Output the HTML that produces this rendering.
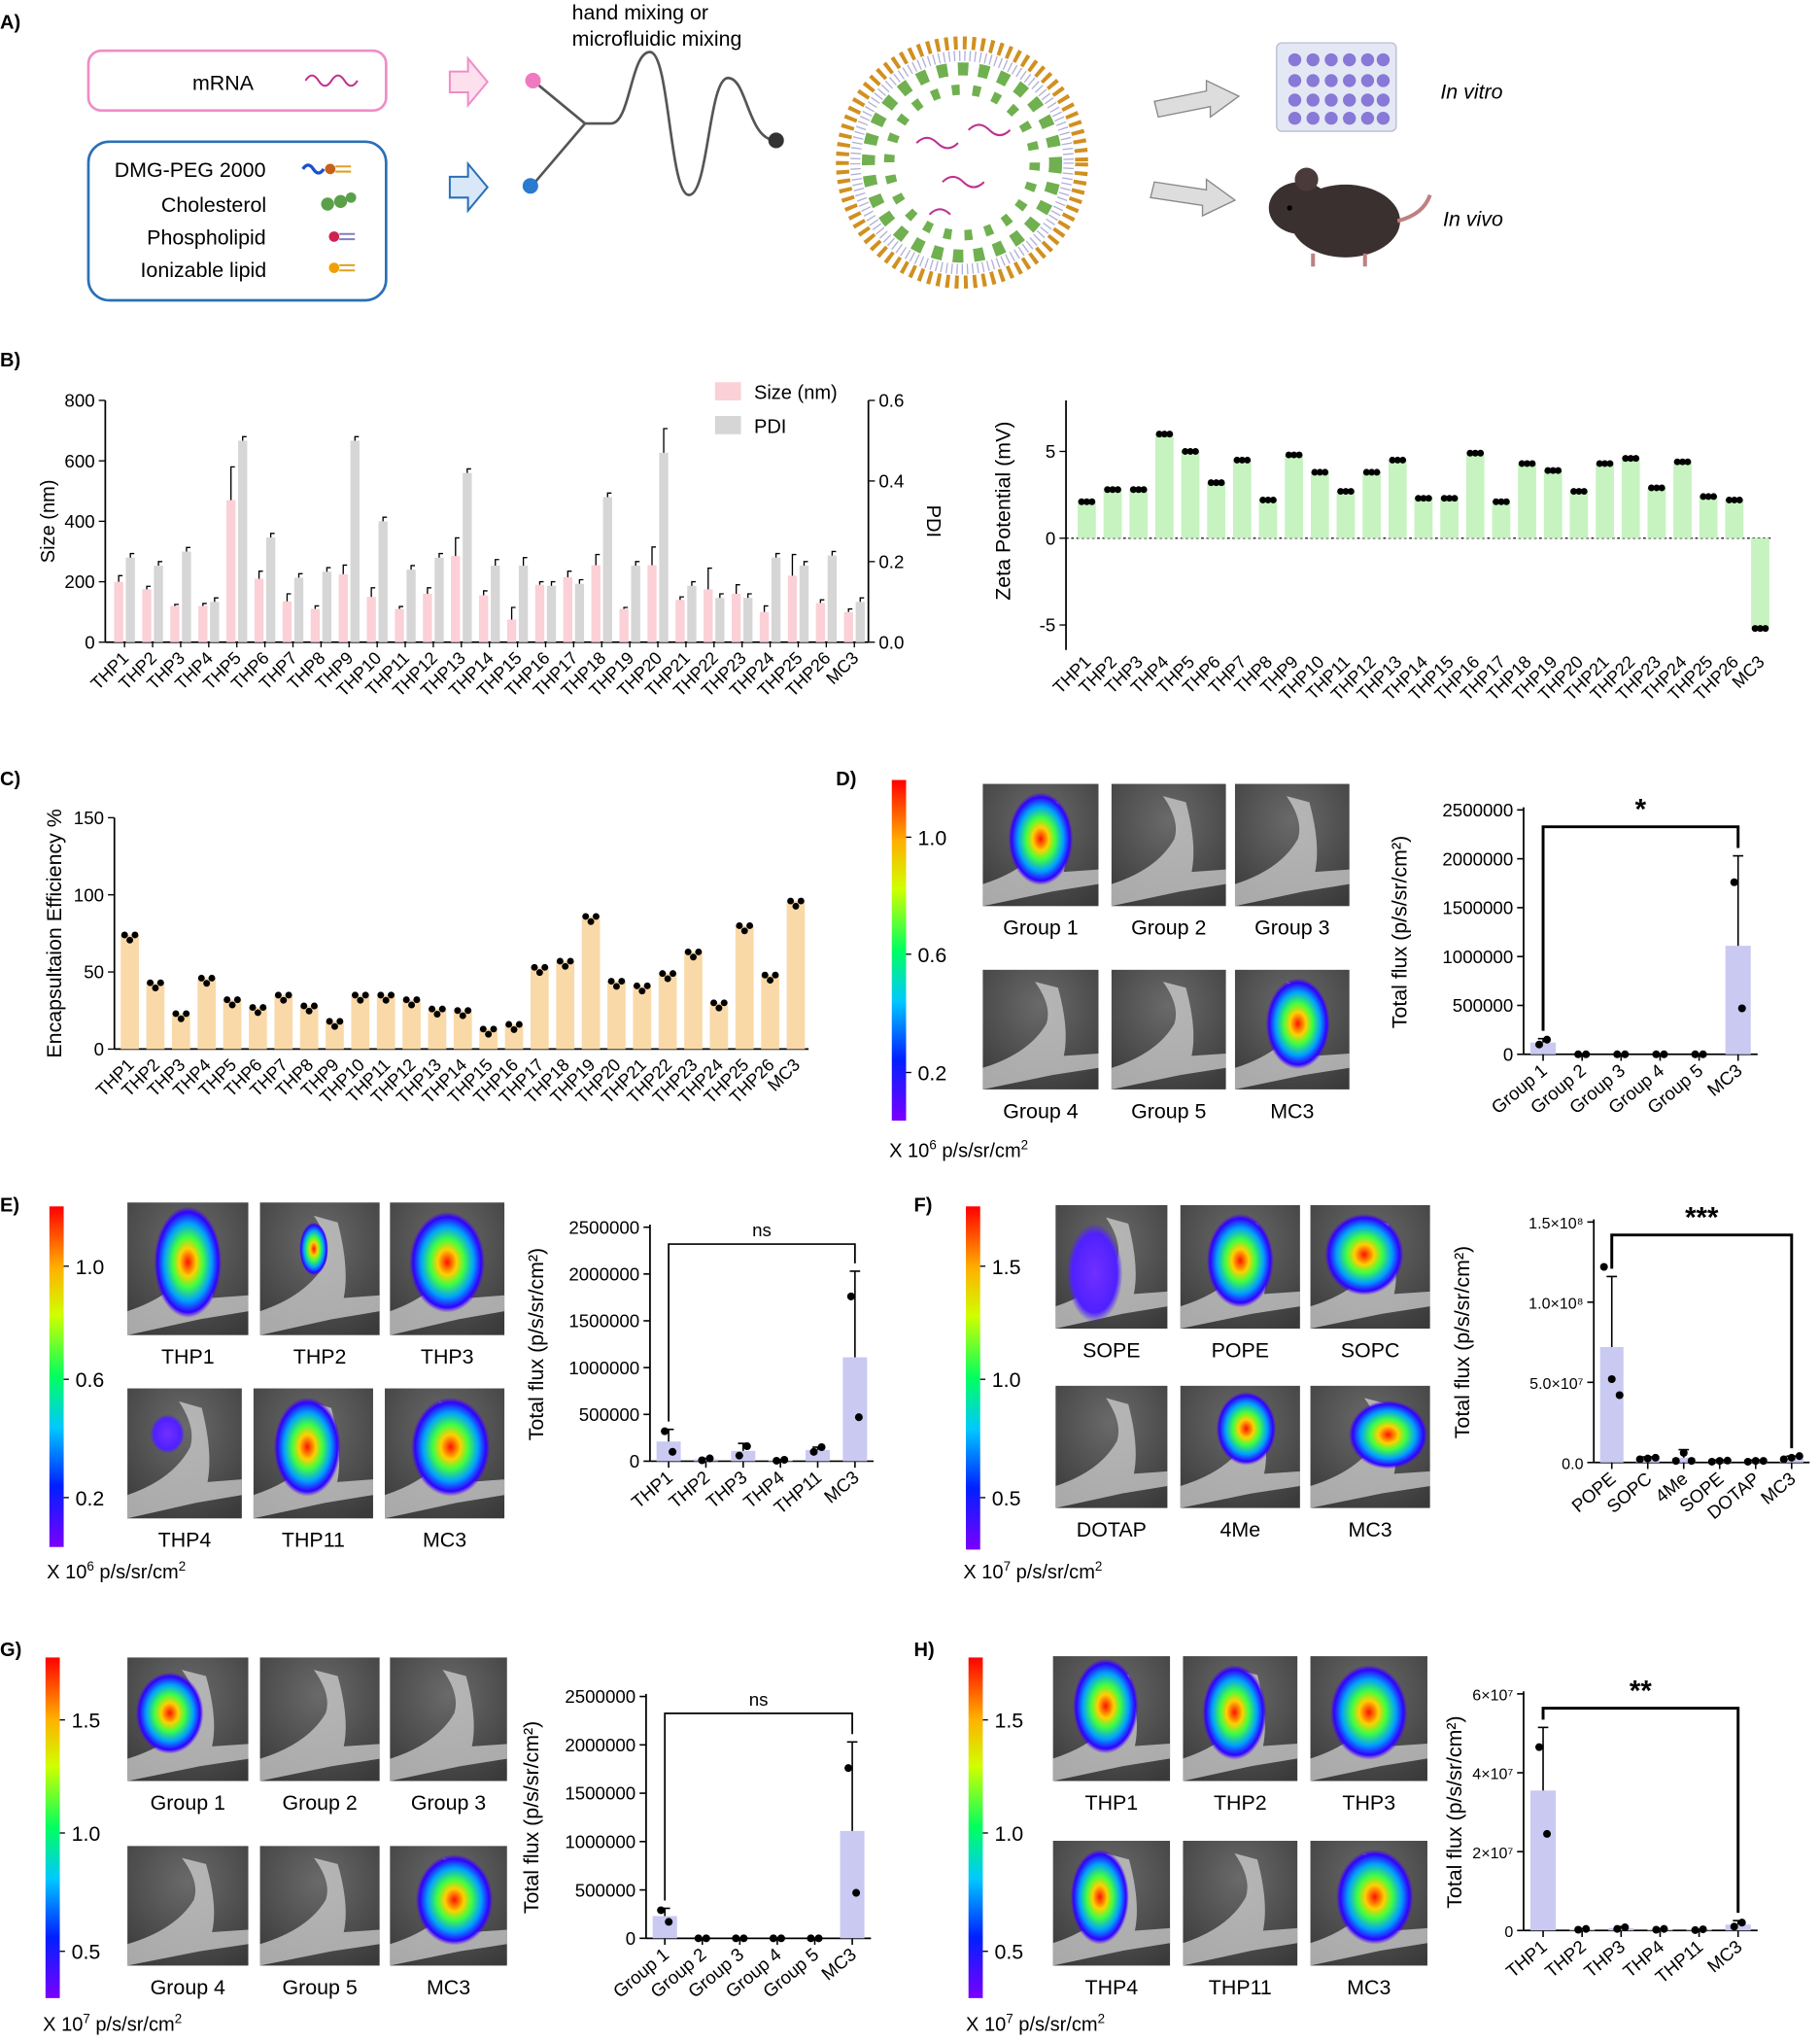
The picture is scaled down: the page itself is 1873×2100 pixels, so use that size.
<!DOCTYPE html>
<html><head><meta charset="utf-8">
<style>
html,body{margin:0;padding:0;background:#fff;}
svg{display:block;font-family:"Liberation Sans",Arial,sans-serif;}
</style></head>
<body>
<svg id="fig" width="1873" height="2100" viewBox="0 0 1400 1570" preserveAspectRatio="none" xmlns="http://www.w3.org/2000/svg">
<defs>
<linearGradient id="rainbow" x1="0" y1="1" x2="0" y2="0">
<stop offset="0" stop-color="#7a00ff"/><stop offset="0.18" stop-color="#0020ff"/><stop offset="0.35" stop-color="#00c8ff"/><stop offset="0.5" stop-color="#00ff60"/><stop offset="0.68" stop-color="#d0ff00"/><stop offset="0.82" stop-color="#ffb000"/><stop offset="1" stop-color="#ff0000"/>
</linearGradient>
<radialGradient id="blob" cx="0.5" cy="0.5" r="0.5">
<stop offset="0" stop-color="#ff1000"/><stop offset="0.25" stop-color="#ffd000"/><stop offset="0.45" stop-color="#40ff40"/><stop offset="0.7" stop-color="#00a0ff"/><stop offset="0.9" stop-color="#3000ff"/><stop offset="1" stop-color="#5000ff" stop-opacity="0"/>
</radialGradient>
<radialGradient id="blobweak" cx="0.5" cy="0.5" r="0.5">
<stop offset="0" stop-color="#7030ff"/><stop offset="0.8" stop-color="#5020ff"/><stop offset="1" stop-color="#5020ff" stop-opacity="0"/>
</radialGradient>
<radialGradient id="mouseBg" cx="0.5" cy="0.3" r="0.8">
<stop offset="0" stop-color="#6a6a6a"/><stop offset="1" stop-color="#3a3a3a"/>
</radialGradient>
</defs>

<!-- Panel A -->
<g>
<text x="0" y="22" font-size="15" font-weight="bold">A)</text>
<rect x="68" y="39" width="229" height="46" rx="10" fill="#fff" stroke="#f08cc8" stroke-width="2"/>
<text x="148" y="69" font-size="16">mRNA</text>
<path d="M235 62 q5 -8 10 0 t10 0 t10 0 t10 0" fill="none" stroke="#c03090" stroke-width="1.5"/>
<rect x="68" y="109" width="229" height="122" rx="16" fill="#fff" stroke="#2a6fb8" stroke-width="2"/>
<text x="88" y="136" font-size="16">DMG-PEG 2000</text>
<text x="124" y="163" font-size="16">Cholesterol</text>
<text x="113" y="188" font-size="16">Phospholipid</text>
<text x="108" y="213" font-size="16">Ionizable lipid</text>
<path d="M233 130 q4 -6 8 0 t8 0" stroke="#1a50d0" stroke-width="2.5" fill="none"/><circle cx="254" cy="130" r="4" fill="#c86018"/><path d="M258 128 h12 M258 132 h12" stroke="#e0a020" stroke-width="1.5"/>
<circle cx="252" cy="157" r="5" fill="#5aa04a"/><circle cx="262" cy="155" r="5" fill="#5aa04a"/><circle cx="270" cy="152" r="4" fill="#5aa04a"/>
<circle cx="257" cy="182" r="4" fill="#d02050"/><path d="M261 180 h12 M261 184 h12" stroke="#8080c0" stroke-width="1.5"/>
<circle cx="257" cy="206" r="4" fill="#f0a000"/><path d="M261 204 h12 M261 208 h12" stroke="#e0a020" stroke-width="1.5"/>
<path d="M346 55 h14 v-10 l15 18 l-15 18 v-10 h-14 z" fill="#fde0ee" stroke="#f08cc8" stroke-width="1.5"/>
<path d="M346 136 h14 v-10 l15 18 l-15 18 v-10 h-14 z" fill="#d8e8f8" stroke="#2a6fb8" stroke-width="1.5"/>
<text x="440" y="15" font-size="16">hand mixing or</text>
<text x="440" y="35" font-size="16">microfluidic mixing</text>
<path d="M410 62 L450 95 L410 142 M450 95 L470 95 C485 95 485 40 500 40 C515 40 515 150 530 150 C545 150 545 60 560 60 C575 60 575 108 597 108" fill="none" stroke="#555" stroke-width="2"/>
<circle cx="410" cy="62" r="6" fill="#f07ac0"/><circle cx="408" cy="143" r="6" fill="#2a7ad0"/><circle cx="597" cy="108" r="6" fill="#333"/>
<g>
<circle cx="740" cy="125" r="92" fill="#fff" stroke="#d09020" stroke-width="10" stroke-dasharray="3 4"/>
<circle cx="740" cy="125" r="82" fill="none" stroke="#b0b0d8" stroke-width="8" stroke-dasharray="1 3"/>
<circle cx="740" cy="125" r="72" fill="none" stroke="#70b050" stroke-width="10" stroke-dasharray="8 8"/>
<circle cx="740" cy="125" r="56" fill="none" stroke="#70b050" stroke-width="8" stroke-dasharray="6 10"/>
<path d="M705 110 q8 -8 16 0 t16 0 M725 140 q8 -8 16 0 t16 0 M745 100 q8 -8 16 0 t16 0 M715 165 q8 -8 16 0" stroke="#c03090" fill="none" stroke-width="1.5"/>
</g>
<path d="M888 78 l40 -8 v-8 l25 12 l-22 16 v-8 l-40 8 z" fill="#ddd" stroke="#888"/>
<path d="M888 140 l40 6 v-8 l22 16 l-25 12 v-8 l-40 -6 z" fill="#ddd" stroke="#888"/>
<rect x="982" y="33" width="92" height="68" rx="4" fill="#e4e8f4" stroke="#b8bcd0"/>
<g fill="#8878d8">
<circle cx="996" cy="46" r="5"/><circle cx="1010" cy="46" r="5"/><circle cx="1024" cy="46" r="5"/><circle cx="1038" cy="46" r="5"/><circle cx="1052" cy="46" r="5"/><circle cx="1064" cy="46" r="5"/>
<circle cx="996" cy="62" r="5"/><circle cx="1010" cy="62" r="5"/><circle cx="1024" cy="62" r="5"/><circle cx="1038" cy="62" r="5"/><circle cx="1052" cy="62" r="5"/><circle cx="1064" cy="62" r="5"/>
<circle cx="996" cy="77" r="5"/><circle cx="1010" cy="77" r="5"/><circle cx="1024" cy="77" r="5"/><circle cx="1038" cy="77" r="5"/><circle cx="1052" cy="77" r="5"/><circle cx="1064" cy="77" r="5"/>
<circle cx="996" cy="91" r="5"/><circle cx="1010" cy="91" r="5"/><circle cx="1024" cy="91" r="5"/><circle cx="1038" cy="91" r="5"/><circle cx="1052" cy="91" r="5"/><circle cx="1064" cy="91" r="5"/>
</g>
<text x="1108" y="76" font-size="16" font-style="italic">In vitro</text>
<g>
<ellipse cx="1035" cy="170" rx="42" ry="28" fill="#3a3030"/>
<ellipse cx="1000" cy="160" rx="24" ry="20" fill="#3a3030"/>
<circle cx="1005" cy="138" r="9" fill="#4a3a3a"/><circle cx="992" cy="160" r="2" fill="#000"/>
<path d="M1075 170 q20 -5 25 -20" stroke="#c08080" stroke-width="3" fill="none"/>
<path d="M1010 195 v10 M1050 195 v10" stroke="#c08080" stroke-width="3"/>
</g>
<text x="1110" y="174" font-size="16" font-style="italic">In vivo</text>
</g>

<g id="dyn"></g>
</svg>

<script>
// ---------- data ----------
const catsTHP = ["THP1","THP2","THP3","THP4","THP5","THP6","THP7","THP8","THP9","THP10","THP11","THP12","THP13","THP14","THP15","THP16","THP17","THP18","THP19","THP20","THP21","THP22","THP23","THP24","THP25","THP26","MC3"];
const sizeVals = [200,175,120,120,470,210,135,110,225,150,110,160,285,155,75,190,215,255,110,255,140,175,160,100,220,130,100];
const sizeErr = [20,10,5,8,110,25,25,10,30,30,8,20,60,15,40,10,20,35,5,60,10,70,30,20,70,10,10];
const pdiVals = [0.21,0.19,0.225,0.1,0.5,0.26,0.16,0.175,0.5,0.3,0.18,0.21,0.42,0.19,0.19,0.14,0.145,0.36,0.19,0.47,0.14,0.11,0.11,0.21,0.19,0.215,0.1];
const pdiErr = [0.01,0.01,0.01,0.01,0.01,0.01,0.01,0.01,0.01,0.01,0.01,0.01,0.01,0.015,0.02,0.01,0.01,0.01,0.01,0.06,0.01,0.01,0.01,0.01,0.01,0.01,0.01];
const sizeTicks = [0,200,400,600,800];
const pdiTicks = [0,0.2,0.4,0.6];
const pdiTickLabels = ["0.0","0.2","0.4","0.6"];
const zetaVals = [2.1,2.8,2.8,6.0,5.0,3.2,4.5,2.2,4.8,3.8,2.7,3.8,4.5,2.3,2.3,4.9,2.1,4.3,3.9,2.7,4.3,4.6,2.9,4.4,2.4,2.2,-5.2];
const zetaTicks = [-5,0,5];
const eeVals = [74,43,23,46,32,27,35,28,18,35,35,32,26,25,13,16,53,57,86,44,41,49,63,30,80,48,96];
const eeTicks = [0,50,100,150];

const catsD = ["Group 1","Group 2","Group 3","Group 4","Group 5","MC3"];
const valsD = [120000,0,0,0,0,1110000];
const errD = [40000,0,0,0,0,920000];
const dotsD = [[100000,150000],[0,0],[0,0],[0,0],[0,0],[1760000,470000]];
const fluxTicks = [0,500000,1000000,1500000,2000000,2500000];
const fluxTickLabels = ["0","500000","1000000","1500000","2000000","2500000"];

const catsE = ["THP1","THP2","THP3","THP4","THP11","MC3"];
const valsE = [210000,20000,110000,10000,120000,1110000];
const errE = [130000,10000,80000,5000,30000,920000];
const dotsE = [[320000,100000],[10000,30000],[60000,160000],[5000,15000],[100000,150000],[1760000,470000]];

const catsF = ["POPE","SOPC","4Me","SOPE","DOTAP","MC3"];
const valsF = [7.2e7,2.5e6,3e6,1e6,1e6,3e6];
const errF = [4.4e7,1e6,5e6,5e5,5e5,1e6];
const dotsF = [[1.22e8,5.2e7,4.2e7],[2e6,2.5e6,3e6],[1e6,6e6,1e6],[5e5,1e6,1.2e6],[5e5,1e6,1e6],[2e6,3e6,4e6]];
const ticksF = [0,5e7,1e8,1.5e8];
const tickLabelsF = ["0.0","5.0×10⁷","1.0×10⁸","1.5×10⁸"];

const catsG = ["Group 1","Group 2","Group 3","Group 4","Group 5","MC3"];
const valsG = [230000,0,0,0,0,1110000];
const errG = [80000,0,0,0,0,920000];
const dotsG = [[290000,170000],[0,0],[0,0],[0,0],[0,0],[1760000,470000]];

const catsH = ["THP1","THP2","THP3","THP4","THP11","MC3"];
const valsH = [3.55e7,3e5,6e5,3e5,2e5,1.5e6];
const errH = [1.6e7,2e5,4e5,2e5,1e5,1e6];
const dotsH = [[4.65e7,2.45e7],[2e5,4e5],[4e5,8e5],[2e5,4e5],[1e5,3e5],[1e6,2e6]];
const ticksH = [0,2e7,4e7,6e7];
const tickLabelsH = ["0","2×10⁷","4×10⁷","6×10⁷"];

// ---------- helpers ----------
const NS = "http://www.w3.org/2000/svg";
const root = document.getElementById("dyn");
function mk(tag, attrs, parent) {
  const e = document.createElementNS(NS, tag);
  for (const k in attrs) e.setAttribute(k, attrs[k]);
  (parent || root).appendChild(e);
  return e;
}
function txt(x, y, s, size, parent, extra) {
  const t = mk("text", Object.assign({x: x, y: y, "font-size": size}, extra || {}), parent);
  t.textContent = s;
  return t;
}
function lin(v, max, yBot, yTop) { return yBot - v / max * (yBot - yTop); }

function fluxChart(o) {
  const g = mk("g", {});
  
  
  const y = v => lin(v, o.max, o.yBot, o.yTop);
  mk("line", {x1: o.ax, y1: o.yTop - 2, x2: o.ax, y2: o.yBot, stroke: "#000", "stroke-width": 1.3}, g);
  mk("line", {x1: o.ax, y1: o.yBot, x2: o.x1, y2: o.yBot, stroke: "#000", "stroke-width": 1.3}, g);
  o.ticks.forEach((t, i) => {
    const ty = y(t);
    mk("line", {x1: o.ax - 5, y1: ty, x2: o.ax, y2: ty, stroke: "#000", "stroke-width": 1.2}, g);
    const lab = txt(o.ax - 8, ty + 5, o.labels[i], o.tickSize || 14, g, {"text-anchor": "end"});
    
    
  });
  const title = txt(0, 0, "Total flux (p/s/sr/cm²)", 16, g, {"text-anchor": "middle", transform: `translate(${o.titleX},${(o.yTop + o.yBot) / 2}) rotate(-90)`});
  
  
  const band = (o.x1 - o.ax) / o.cats.length;
  const bw = band * 0.65;
  const cx = [];
  o.cats.forEach((c, i) => {
    const x = o.ax + band * (i + 0.5);
    cx.push(x);
    const bar = mk("rect", {x: x - bw / 2, y: y(o.vals[i]), width: bw, height: o.yBot - y(o.vals[i]), fill: "#c9c9f2"}, g);
    
    
    if (o.err[i] > 0) {
      const ey = y(o.vals[i] + o.err[i]);
      mk("line", {x1: x, y1: y(o.vals[i]), x2: x, y2: ey, stroke: "#000", "stroke-width": 1.2}, g);
      mk("line", {x1: x - 4, y1: ey, x2: x + 4, y2: ey, stroke: "#000", "stroke-width": 1.2}, g);
    }
    o.dots[i].forEach((d, j) => {
      const n = o.dots[i].length;
      const dot = mk("circle", {cx: x + (j - (n - 1) / 2) * 6, cy: y(d), r: 3, fill: "#000"}, g);
      
      
    });
    mk("line", {x1: x, y1: o.yBot, x2: x, y2: o.yBot + 5, stroke: "#000", "stroke-width": 1.2}, g);
    const xl = txt(x + 4, o.yBot + 14, c, 14, g, {"text-anchor": "end", transform: `rotate(-40 ${x + 4} ${o.yBot + 14})`});
    
    
  });
  const x0 = cx[0], x5 = cx[cx.length - 1];
  const top0 = y(o.vals[0] + o.err[0]) - 6, top5 = y(o.vals[5] + o.err[5]) - 6;
  mk("path", {d: `M${x0} ${top0} V${o.sigY} H${x5} V${top5}`, fill: "none", stroke: "#000", "stroke-width": o.sigBold ? 2.2 : 1.3}, g);
  const s = txt((x0 + x5) / 2, o.sigY - 6, o.sig, o.sigBold ? 22 : 14, g, {"text-anchor": "middle", "font-weight": o.sigBold ? "bold" : "normal"});
  
  
}

function colorbar(name, x, y0, y1, labels, ys, caption, capX, capY) {
  const g = mk("g", {});
  
  
  mk("rect", {x: x, y: y0, width: 11, height: y1 - y0, fill: "url(#rainbow)"}, g);
  labels.forEach((l, i) => {
    mk("line", {x1: x + 11, y1: ys[i], x2: x + 15, y2: ys[i], stroke: "#000"}, g);
    txt(x + 20, ys[i] + 6, l, 16, g);
  });
  const c = txt(capX, capY, "", 15, g);
  c.innerHTML = caption;
}

function tile(name, x, y, w, h, label, blob) {
  const g = mk("g", {});
  
  
  mk("rect", {x: x, y: y, width: w, height: h, fill: "url(#mouseBg)"}, g);
  mk("path", {d: `M${x} ${y + h * 0.82} Q${x + w * 0.4} ${y + h * 0.7} ${x + w * 0.55} ${y + h * 0.45} Q${x + w * 0.6} ${y + h * 0.3} ${x + w * 0.45} ${y + h * 0.1} L${x + w * 0.65} ${y + h * 0.15} Q${x + w * 0.75} ${y + h * 0.5} ${x + w * 0.7} ${y + h * 0.72} L${x + w} ${y + h * 0.7} L${x + w} ${y + h * 0.82} L${x + w * 0.6} ${y + h * 0.88} L${x} ${y + h}Z`, fill: "#cfcfcf", opacity: 0.75}, g);
  if (blob) {
    mk("ellipse", {cx: x + w * blob[0], cy: y + h * blob[1], rx: w * blob[2], ry: h * blob[3], fill: blob[4] ? "url(#blobweak)" : "url(#blob)"}, g);
  }
  const t = txt(x + w / 2, y + h + 22, label, 16, g, {"text-anchor": "middle"});
  
  
}

[["B)",0,282],["C)",0,604],["D)",643,604],["E)",0,932],["F)",703,932],["G)",0,1274],["H)",703,1274]].forEach(p => {
  const t = txt(p[1], p[2], p[0], 15, root, {"font-weight": "bold"});
  
  
});

// Panel B left
(function () {
  const g = mk("g", {});
  
  
  const yB = 494, yT = 308, ax = 81, ax2 = 668;
  const ys = v => lin(v, 800, yB, yT);
  const yp = v => lin(v, 0.6, yB, yT);
  mk("line", {x1: ax, y1: yT, x2: ax, y2: yB, stroke: "#000", "stroke-width": 1.3}, g);
  mk("line", {x1: ax2, y1: yT, x2: ax2, y2: yB, stroke: "#000", "stroke-width": 1.3}, g);
  mk("line", {x1: ax, y1: yB, x2: ax2, y2: yB, stroke: "#000", "stroke-width": 1.3}, g);
  sizeTicks.forEach(t => {
    mk("line", {x1: ax - 5, y1: ys(t), x2: ax, y2: ys(t), stroke: "#000"}, g);
    txt(ax - 8, ys(t) + 5, String(t), 14, g, {"text-anchor": "end"});
  });
  pdiTicks.forEach((t, i) => {
    mk("line", {x1: ax2, y1: yp(t), x2: ax2 + 5, y2: yp(t), stroke: "#000"}, g);
    txt(ax2 + 8, yp(t) + 5, pdiTickLabels[i], 14, g);
  });
  txt(0, 0, "Size (nm)", 15, g, {"text-anchor": "middle", transform: `translate(42,${(yT + yB) / 2}) rotate(-90)`});
  txt(0, 0, "PDI", 15, g, {"text-anchor": "middle", transform: `translate(713,${(yT + yB) / 2}) rotate(90)`});
  const band = (ax2 - ax - 4) / catsTHP.length;
  catsTHP.forEach((c, i) => {
    const x = ax + 4 + band * (i + 0.5);
    const b1 = mk("rect", {x: x - 8, y: ys(sizeVals[i]), width: 7, height: yB - ys(sizeVals[i]), fill: "#fbd0d6"}, g);
    
    
    const e1 = ys(sizeVals[i] + sizeErr[i]);
    mk("path", {d: `M${x - 4.5} ${ys(sizeVals[i])} V${e1} h3`, stroke: "#000", fill: "none", "stroke-width": 1}, g);
    const b2 = mk("rect", {x: x + 1, y: yp(pdiVals[i]), width: 7, height: yB - yp(pdiVals[i]), fill: "#d6d6d6"}, g);
    
    
    const e2 = yp(pdiVals[i] + pdiErr[i]);
    mk("path", {d: `M${x + 4.5} ${yp(pdiVals[i])} V${e2} h3`, stroke: "#000", fill: "none", "stroke-width": 1}, g);
    mk("line", {x1: x, y1: yB, x2: x, y2: yB + 4, stroke: "#000"}, g);
    txt(x + 4, yB + 13, c, 13.5, g, {"text-anchor": "end", transform: `rotate(-45 ${x + 4} ${yB + 13})`});
  });
  const l1 = mk("rect", {x: 550, y: 294, width: 20, height: 14, fill: "#fbd0d6"}, g);
  
  
  txt(580, 307, "Size (nm)", 15, g);
  const l2 = mk("rect", {x: 550, y: 320, width: 20, height: 14, fill: "#d6d6d6"}, g);
  
  
  txt(580, 333, "PDI", 15, g);
})();

// Panel B right
(function () {
  const g = mk("g", {});
  
  
  const ax = 820, x1 = 1364, y0 = 414, per = 13.35;
  const y = v => y0 - v * per;
  mk("line", {x1: ax, y1: 308, x2: ax, y2: 500, stroke: "#000", "stroke-width": 1.3}, g);
  mk("line", {x1: ax, y1: y0, x2: x1, y2: y0, stroke: "#000", "stroke-width": 1, "stroke-dasharray": "2 2"}, g);
  zetaTicks.forEach(t => {
    mk("line", {x1: ax - 5, y1: y(t), x2: ax, y2: y(t), stroke: "#000"}, g);
    txt(ax - 8, y(t) + 5, String(t), 14, g, {"text-anchor": "end"});
  });
  txt(0, 0, "Zeta Potential (mV)", 16, g, {"text-anchor": "middle", transform: `translate(777,393) rotate(-90)`});
  const band = (x1 - ax - 6) / catsTHP.length;
  catsTHP.forEach((c, i) => {
    const x = ax + 6 + band * (i + 0.5);
    const v = zetaVals[i];
    const b = mk("rect", {x: x - 7, y: Math.min(y(v), y0), width: 14, height: Math.abs(y(v) - y0), fill: "#c6f3c0"}, g);
    
    
    [-4, 0, 4].forEach(dx => mk("circle", {cx: x + dx, cy: y(v), r: 2.6, fill: "#000"}, g));
    txt(x + 4, 510, c, 13.5, g, {"text-anchor": "end", transform: `rotate(-45 ${x + 4} 510)`});
  });
})();

// Panel C
(function () {
  const g = mk("g", {});
  
  
  const ax = 88, x1 = 622, yB = 807, yT = 629;
  const y = v => lin(v, 150, yB, yT);
  mk("line", {x1: ax, y1: yT, x2: ax, y2: yB, stroke: "#000", "stroke-width": 1.3}, g);
  mk("line", {x1: ax, y1: yB, x2: x1, y2: yB, stroke: "#000", "stroke-width": 1.3}, g);
  eeTicks.forEach(t => {
    mk("line", {x1: ax - 5, y1: y(t), x2: ax, y2: y(t), stroke: "#000"}, g);
    txt(ax - 8, y(t) + 5, String(t), 14, g, {"text-anchor": "end"});
  });
  txt(0, 0, "Encapsultaion Efficiency %", 16, g, {"text-anchor": "middle", transform: `translate(47,718) rotate(-90)`});
  const band = (x1 - ax - 2) / catsTHP.length;
  catsTHP.forEach((c, i) => {
    const x = ax + 2 + band * (i + 0.5);
    const b = mk("rect", {x: x - 7, y: y(eeVals[i]), width: 14, height: yB - y(eeVals[i]), fill: "#fad9a8"}, g);
    
    
    [-4, 0, 4].forEach((dx, j) => mk("circle", {cx: x + dx, cy: y(eeVals[i]) + (j === 1 ? 4 : 0), r: 2.6, fill: "#000"}, g));
    txt(x + 4, yB + 13, c, 13.5, g, {"text-anchor": "end", transform: `rotate(-45 ${x + 4} ${yB + 13})`});
  });
})();

// Panel D
colorbar("colorbar-d", 686, 600, 862, ["1.0","0.6","0.2"], [644,734,825], 'X 10<tspan dy="-6" font-size="10">6</tspan><tspan dy="6"> p/s/sr/cm</tspan><tspan dy="-6" font-size="10">2</tspan>', 684, 890);
tile("image-d-group1", 756, 603, 89, 94, "Group 1", [0.5, 0.45, 0.28, 0.38]);
tile("image-d-group2", 855, 603, 88, 94, "Group 2", null);
tile("image-d-group3", 950, 603, 88, 94, "Group 3", null);
tile("image-d-group4", 756, 746, 89, 92, "Group 4", null);
tile("image-d-group5", 855, 746, 88, 92, "Group 5", null);
tile("image-d-mc3", 950, 746, 88, 92, "MC3", [0.55, 0.45, 0.28, 0.38]);
fluxChart({name: "flux-chart-d", ax: 1172, x1: 1352, yTop: 623, yBot: 811, max: 2500000, ticks: fluxTicks, labels: fluxTickLabels, titleX: 1082, cats: catsD, vals: valsD, err: errD, dots: dotsD, sig: "*", sigY: 636, sigBold: true});

// Panel E
colorbar("colorbar-e", 38, 928, 1190, ["1.0","0.6","0.2"], [974,1061,1152], 'X 10<tspan dy="-6" font-size="10">6</tspan><tspan dy="6"> p/s/sr/cm</tspan><tspan dy="-6" font-size="10">2</tspan>', 36, 1214);
tile("image-e-thp1", 98, 925, 93, 102, "THP1", [0.5, 0.45, 0.28, 0.42]);
tile("image-e-thp2", 200, 925, 92, 102, "THP2", [0.45, 0.35, 0.12, 0.2]);
tile("image-e-thp3", 300, 925, 88, 102, "THP3", [0.5, 0.45, 0.33, 0.38]);
tile("image-e-thp4", 98, 1068, 88, 100, "THP4", [0.35, 0.35, 0.15, 0.15, true]);
tile("image-e-thp11", 195, 1068, 92, 100, "THP11", [0.45, 0.45, 0.28, 0.38]);
tile("image-e-mc3", 296, 1068, 92, 100, "MC3", [0.55, 0.45, 0.33, 0.38]);
fluxChart({name: "flux-chart-e", ax: 500, x1: 672, yTop: 944, yBot: 1124, max: 2500000, ticks: fluxTicks, labels: fluxTickLabels, titleX: 418, cats: catsE, vals: valsE, err: errE, dots: dotsE, sig: "ns", sigY: 957, sigBold: false});

// Panel F
colorbar("colorbar-f", 743, 928, 1192, ["1.5","1.0","0.5"], [974,1061,1152], 'X 10<tspan dy="-6" font-size="10">7</tspan><tspan dy="6"> p/s/sr/cm</tspan><tspan dy="-6" font-size="10">2</tspan>', 741, 1214);
tile("image-f-sope", 812, 927, 86, 95, "SOPE", [0.35, 0.55, 0.25, 0.4, true]);
tile("image-f-pope", 908, 927, 92, 95, "POPE", [0.5, 0.45, 0.28, 0.38]);
tile("image-f-sopc", 1008, 927, 92, 95, "SOPC", [0.45, 0.4, 0.33, 0.33]);
tile("image-f-dotap", 812, 1066, 86, 94, "DOTAP", null);
tile("image-f-4me", 908, 1066, 92, 94, "4Me", [0.55, 0.35, 0.25, 0.3]);
tile("image-f-mc3", 1008, 1066, 92, 94, "MC3", [0.65, 0.4, 0.33, 0.28]);
fluxChart({name: "flux-chart-f", ax: 1226, x1: 1392, yTop: 940, yBot: 1125, max: 1.5e8, ticks: ticksF, labels: tickLabelsF, tickSize: 12, titleX: 1130, cats: catsF, vals: valsF, err: errF, dots: dotsF, sig: "***", sigY: 950, sigBold: true});

// Panel G
colorbar("colorbar-g", 35, 1275, 1537, ["1.5","1.0","0.5"], [1323,1410,1501], 'X 10<tspan dy="-6" font-size="10">7</tspan><tspan dy="6"> p/s/sr/cm</tspan><tspan dy="-6" font-size="10">2</tspan>', 33, 1562);
tile("image-g-group1", 98, 1275, 93, 95, "Group 1", [0.35, 0.45, 0.28, 0.33]);
tile("image-g-group2", 200, 1275, 92, 95, "Group 2", null);
tile("image-g-group3", 300, 1275, 90, 95, "Group 3", null);
tile("image-g-group4", 98, 1420, 93, 92, "Group 4", null);
tile("image-g-group5", 200, 1420, 92, 92, "Group 5", null);
tile("image-g-mc3", 300, 1420, 90, 92, "MC3", [0.55, 0.45, 0.33, 0.38]);
fluxChart({name: "flux-chart-g", ax: 497, x1: 670, yTop: 1305, yBot: 1491, max: 2500000, ticks: fluxTicks, labels: fluxTickLabels, titleX: 414, cats: catsG, vals: valsG, err: errG, dots: dotsG, sig: "ns", sigY: 1318, sigBold: false});

// Panel H
colorbar("colorbar-h", 745, 1275, 1537, ["1.5","1.0","0.5"], [1323,1410,1501], 'X 10<tspan dy="-6" font-size="10">7</tspan><tspan dy="6"> p/s/sr/cm</tspan><tspan dy="-6" font-size="10">2</tspan>', 743, 1562);
tile("image-h-thp1", 810, 1274, 90, 96, "THP1", [0.45, 0.4, 0.28, 0.38]);
tile("image-h-thp2", 910, 1274, 88, 96, "THP2", [0.45, 0.45, 0.28, 0.38]);
tile("image-h-thp3", 1008, 1274, 90, 96, "THP3", [0.5, 0.45, 0.33, 0.38]);
tile("image-h-thp4", 810, 1416, 90, 96, "THP4", [0.4, 0.45, 0.25, 0.38]);
tile("image-h-thp11", 910, 1416, 88, 96, "THP11", null);
tile("image-h-mc3", 1008, 1416, 90, 96, "MC3", [0.55, 0.45, 0.33, 0.38]);
fluxChart({name: "flux-chart-h", ax: 1172, x1: 1352, yTop: 1303, yBot: 1485, max: 6e7, ticks: ticksH, labels: tickLabelsH, tickSize: 12, titleX: 1124, cats: catsH, vals: valsH, err: errH, dots: dotsH, sig: "**", sigY: 1314, sigBold: true});
</script>
</body></html>
